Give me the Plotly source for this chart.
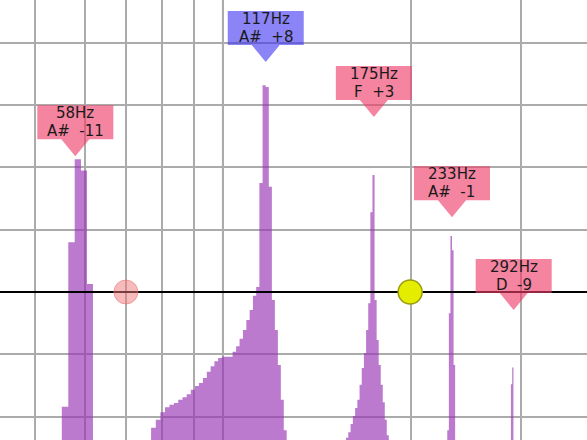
import math
import plotly.graph_objects as go

# ---------------- data ----------------
BIN_WIDTH_HZ = 1.3458          # width of one spectrum bin

PEAK1_HZ = [55.18, 56.52, 57.87, 59.22, 60.56]
PEAK1_LEVEL = [11.6, 38.0, 51.3, 49.5, 31.3]

PEAK2_HZ = [76.71, 78.06, 79.40, 80.75, 82.09, 83.44, 84.79, 86.13, 87.48, 88.82,
            90.17, 91.51, 92.86, 94.21, 95.55, 96.90, 98.24, 99.59, 100.94, 102.28,
            103.63, 104.97, 106.32, 107.66, 109.01, 110.36, 111.70, 113.05, 114.39, 115.74,
            117.08, 118.43, 119.78, 121.12, 122.47, 123.81, 125.16]
PEAK2_LEVEL = [8.2, 9.5, 10.7, 11.5, 11.9, 12.2, 12.7, 13.1, 13.6, 14.3,
               14.9, 15.4, 16.2, 17.2, 18.1, 18.9, 19.4, 19.6, 19.6, 19.6,
               20.4, 21.3, 22.5, 23.9, 25.5, 27.1, 29.4, 30.8, 47.5, 63.2,
               62.9, 46.9, 28.7, 23.9, 18.3, 12.7, 7.8]

PEAK3_HZ = [157.46, 158.80, 160.15, 161.50, 162.84, 164.19, 165.53, 166.88, 168.23, 169.57,
            170.92, 172.26, 173.61, 174.95, 176.30, 177.65, 178.99, 180.34, 181.68, 183.03]
PEAK3_LEVEL = [6.6, 7.5, 8.8, 10.1, 11.4, 12.7, 15.1, 17.8, 20.2, 23.9,
               28.2, 42.8, 48.8, 28.7, 22.3, 18.3, 15.1, 12.3, 9.5, 7.0]

PEAK4_HZ = [228.79, 230.13, 231.48, 232.82, 234.17]
PEAK4_LEVEL = [7.8, 26.6, 39.0, 36.7, 18.3]

PEAK5_HZ = [289.35, 290.69]
PEAK5_LEVEL = [15.2, 17.9]

LABEL_HZ = [58.0, 117.1, 174.5, 232.8, 292.3]
LABEL_LEVEL = [51.8, 66.9, 58.1, 42.0, 27.1]
LABEL_FREQ_TEXT = ["58Hz", "117Hz", "175Hz", "233Hz", "292Hz"]
LABEL_NOTE_TEXT = ["A#\u00a0\u00a0-11", "A#\u00a0\u00a0+8", "F\u00a0\u00a0+3",
                   "A#\u00a0\u00a0-1", "D\u00a0\u00a0-9"]
LABEL_SELECTED = [False, True, False, False, False]

MARKER_HZ = [69.9, 199.5]
MARKER_LEVEL = [30, 30]
MARKER_KIND = ["pink", "yellow"]

REF_LEVEL = 30
X_RANGE_HZ = [43.93, 383.1]
Y_RANGE = [6.244, 76.87]
X_GRID_HZ = [50, 60, 70, 80, 90, 100, 200, 300]
Y_GRID = [10, 20, 30, 40, 50, 60, 70]
ACCENT_HZ = 100

# ---------------- figure ----------------
fig = go.Figure()

BAR_FILL = "rgba(150,50,180,0.65)"
for hz, lev in [(PEAK1_HZ, PEAK1_LEVEL), (PEAK2_HZ, PEAK2_LEVEL), (PEAK3_HZ, PEAK3_LEVEL),
                (PEAK4_HZ, PEAK4_LEVEL), (PEAK5_HZ, PEAK5_LEVEL)]:
    xs = [hz[0]] + list(hz) + [hz[-1] + BIN_WIDTH_HZ]
    ys = [0] + list(lev) + [0]
    fig.add_trace(go.Scatter(x=xs, y=ys, mode="lines", line=dict(width=0, shape="hv"),
                             fill="tozeroy", fillcolor=BAR_FILL, hoverinfo="skip",
                             showlegend=False))

# reference level line
fig.add_trace(go.Scatter(x=X_RANGE_HZ, y=[REF_LEVEL, REF_LEVEL], mode="lines",
                         line=dict(color="black", width=2), hoverinfo="skip", showlegend=False))

# markers
styles = {
    "pink": dict(color="rgba(240,120,120,0.5)", line=dict(color="rgba(235,120,120,0.6)", width=1)),
    "yellow": dict(color="#E4EC00", line=dict(color="#9C9C10", width=1.5)),
}
for hz, lev, kind in zip(MARKER_HZ, MARKER_LEVEL, MARKER_KIND):
    fig.add_trace(go.Scatter(x=[hz], y=[lev], mode="markers",
                             marker=dict(size=24, **styles[kind]),
                             hoverinfo="skip", showlegend=False))

shapes = [dict(type="line", xref="x", yref="paper", x0=ACCENT_HZ, x1=ACCENT_HZ, y0=0, y1=1,
               line=dict(color="#707070", width=2), layer="below")]
annotations = []
LABEL_PATH = "M 0 0 L -14 17 L -38 17 L -38 51 L 38 51 L 38 17 L 14 17 Z"
for hz, lev, t1, t2, sel in zip(LABEL_HZ, LABEL_LEVEL, LABEL_FREQ_TEXT, LABEL_NOTE_TEXT, LABEL_SELECTED):
    fill = "rgba(60,50,240,0.6)" if sel else "rgba(238,60,105,0.63)"
    shapes.append(dict(type="path", xref="x", yref="y", xsizemode="pixel", ysizemode="pixel",
                       xanchor=hz, yanchor=lev, path=LABEL_PATH, fillcolor=fill,
                       line=dict(width=0), layer="above"))
    for txt, shift in [(t1, 43), (t2, 25)]:
        annotations.append(dict(x=math.log10(hz), y=lev, xref="x", yref="y", text=txt,
                                showarrow=False, yshift=shift, xanchor="center", yanchor="middle",
                                borderpad=0,
                                font=dict(family="DejaVu Sans", size=15, color="#1a1a1a")))

fig.update_layout(
    width=587, height=440, margin=dict(l=0, r=0, t=0, b=0),
    paper_bgcolor="white", plot_bgcolor="white",
    shapes=shapes, annotations=annotations, showlegend=False,
    xaxis=dict(type="log", range=[math.log10(X_RANGE_HZ[0]), math.log10(X_RANGE_HZ[1])],
               tickvals=X_GRID_HZ, showticklabels=False, ticks="", showgrid=True,
               gridcolor="#ababab", gridwidth=1.6, zeroline=False, showline=False),
    yaxis=dict(range=Y_RANGE, tickvals=Y_GRID, showticklabels=False, ticks="", showgrid=True,
               gridcolor="#ababab", gridwidth=1.6, zeroline=False, showline=False),
)

fig.write_html("out.html", config={"displayModeBar": False},
               post_script="document.body.style.margin='0';document.body.style.overflow='hidden';")
